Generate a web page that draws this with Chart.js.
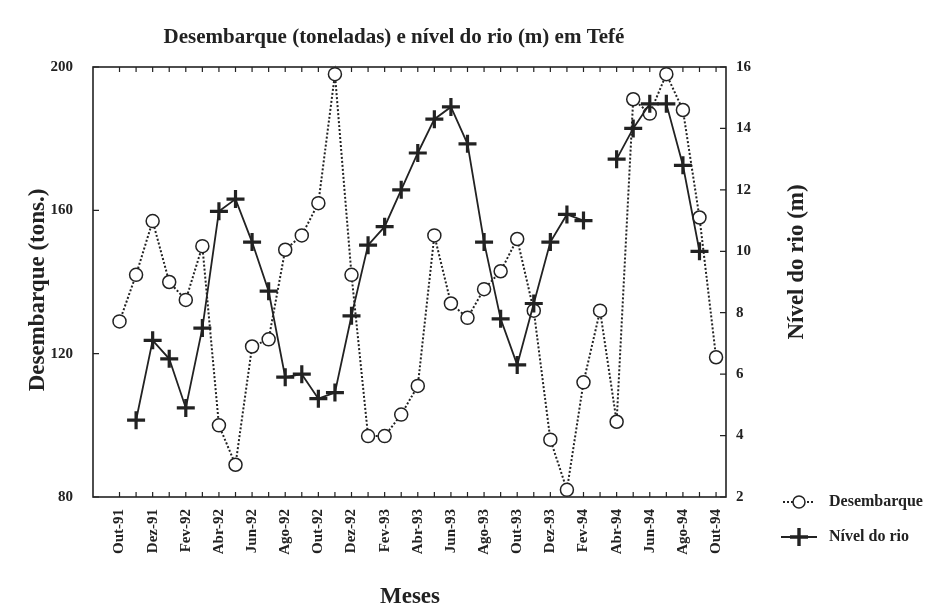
<!DOCTYPE html>
<html>
<head>
<meta charset="utf-8">
<script src="https://cdn.jsdelivr.net/npm/chart.js@4.4.1/dist/chart.umd.min.js"></script>
<style>
  body { margin: 0; background: #fff; }
</style>
</head>
<body>
<canvas id="myChart" width="945" height="613"></canvas>
<script>
var months = ['Out-91','Nov-91','Dez-91','Jan-92','Fev-92','Mar-92','Abr-92','Mai-92','Jun-92','Jul-92','Ago-92','Set-92',
    'Out-92','Nov-92','Dez-92','Jan-93','Fev-93','Mar-93','Abr-93','Mai-93','Jun-93','Jul-93','Ago-93','Set-93',
    'Out-93','Nov-93','Dez-93','Jan-94','Fev-94','Mar-94','Abr-94','Mai-94','Jun-94','Jul-94','Ago-94','Set-94','Out-94'];

// toneladas
var desembarque = [129, 142, 157, 140, 135, 150, 100, 89, 122, 124, 149, 153,
    162, 198, 142, 97, 97, 103, 111, 153, 134, 130, 138, 143,
    152, 132, 96, 82, 112, 132, 101, 191, 187, 198, 188, 158, 119];

// metros
var nivel = [null, 4.5, 7.1, 6.5, 4.9, 7.5, 11.3, 11.7, 10.3, 8.7, 5.9, 6.0,
    5.2, 5.4, 7.9, 10.2, 10.8, 12.0, 13.2, 14.3, 14.7, 13.5, 10.3, 7.8,
    6.3, 8.3, 10.3, 11.2, 11.0, null, 13.0, 14.0, 14.8, 14.8, 12.8, 10.0, null];

var leftTicks = [80, 120, 160, 200];
var rightTicks = [2, 4, 6, 8, 10, 12, 14, 16];

var ink = '#222';
var serif = "'Liberation Serif', 'DejaVu Serif', serif";

var decor = {
    id: 'decor',
    beforeDatasetsDraw: function(chart) {
        var ctx = chart.ctx, a = chart.chartArea, s = chart.scales;
        ctx.save();
        ctx.strokeStyle = ink;
        ctx.lineWidth = 1.6;
        ctx.strokeRect(a.left, a.top, a.right - a.left, a.bottom - a.top);
        ctx.lineWidth = 1.2;
        ctx.beginPath();
        months.forEach(function(m, i) {
            var x = s.x.getPixelForValue(i);
            ctx.moveTo(x, a.bottom); ctx.lineTo(x, a.bottom - 5);
            ctx.moveTo(x, a.top); ctx.lineTo(x, a.top + 5);
        });
        leftTicks.forEach(function(v) {
            var y = s.y.getPixelForValue(v);
            ctx.moveTo(a.left, y); ctx.lineTo(a.left + 6, y);
        });
        rightTicks.forEach(function(v) {
            var y = s.y1.getPixelForValue(v);
            ctx.moveTo(a.right, y); ctx.lineTo(a.right - 6, y);
        });
        ctx.stroke();
        ctx.restore();
    },
    afterDraw: function(chart) {
        var ctx = chart.ctx;
        ctx.save();
        ctx.fillStyle = ink;
        ctx.textAlign = 'center';
        ctx.textBaseline = 'middle';

        ctx.font = 'bold 21px ' + serif;
        ctx.fillText('Desembarque (toneladas) e nível do rio (m) em Tefé', 394, 38);

        ctx.font = 'bold 23px ' + serif;
        ctx.fillText('Meses', 410, 597);

        ctx.save();
        ctx.translate(38, 290);
        ctx.rotate(-Math.PI / 2);
        ctx.fillText('Desembarque (tons.)', 0, 0);
        ctx.restore();

        ctx.save();
        ctx.translate(797, 262);
        ctx.rotate(-Math.PI / 2);
        ctx.fillText('Nível do rio (m)', 0, 0);
        ctx.restore();

        // legend
        ctx.strokeStyle = ink;
        ctx.lineWidth = 1.8;
        ctx.setLineDash([2, 2]);
        ctx.beginPath(); ctx.moveTo(783, 502); ctx.lineTo(815, 502); ctx.stroke();
        ctx.setLineDash([]);
        ctx.lineWidth = 1.5;
        ctx.beginPath(); ctx.arc(799, 502, 6, 0, Math.PI * 2);
        ctx.fillStyle = '#fff'; ctx.fill(); ctx.stroke();

        ctx.lineWidth = 2;
        ctx.beginPath(); ctx.moveTo(781, 537); ctx.lineTo(817, 537); ctx.stroke();
        ctx.lineWidth = 3.4;
        ctx.beginPath();
        ctx.moveTo(790, 537); ctx.lineTo(808, 537);
        ctx.moveTo(799, 528); ctx.lineTo(799, 546);
        ctx.stroke();

        ctx.fillStyle = ink;
        ctx.textAlign = 'left';
        ctx.font = 'bold 16px ' + serif;
        ctx.fillText('Desembarque', 829, 502);
        ctx.fillText('Nível do rio', 829, 537);
        ctx.restore();
    }
};

var tickFont = { family: serif, size: 15, weight: 'bold' };

var config = {
    type: 'line',
    data: {
        datasets: [{
            label: 'Nível do rio',
            data: nivel.map(function(v, i) { return { x: i, y: v }; }),
            yAxisID: 'y1',
            borderColor: ink,
            borderWidth: 1.8,
            pointStyle: 'cross',
            pointRadius: 9,
            pointBorderWidth: 3.2,
            pointBorderColor: ink,
            spanGaps: false,
            clip: false
        }, {
            label: 'Desembarque',
            data: desembarque.map(function(v, i) { return { x: i, y: v }; }),
            yAxisID: 'y',
            borderColor: ink,
            borderWidth: 2,
            borderDash: [2, 2],
            pointStyle: 'circle',
            pointRadius: 6.5,
            pointBorderWidth: 1.5,
            pointBackgroundColor: '#fff',
            pointBorderColor: ink,
            clip: false
        }]
    },
    options: {
        responsive: false,
        animation: false,
        layout: { padding: { top: 67 } },
        plugins: { legend: { display: false }, title: { display: false }, tooltip: { enabled: false } },
        scales: {
            x: {
                type: 'linear',
                min: -1.6,
                max: 36.6,
                grid: { display: false, drawTicks: false },
                border: { display: false },
                afterFit: function(scale) { scale.height = 116; },
                ticks: {
                    stepSize: 1,
                    maxTicksLimit: 100,
                    includeBounds: false,
                    autoSkip: false,
                    minRotation: 90,
                    maxRotation: 90,
                    padding: 12,
                    color: ink,
                    font: tickFont,
                    callback: function(v) {
                        return (Number.isInteger(v) && v % 2 === 0) ? months[v] : '';
                    }
                }
            },
            y: {
                position: 'left',
                min: 80,
                max: 200,
                grid: { display: false, drawTicks: false },
                border: { display: false },
                afterFit: function(scale) { scale.width = 93; },
                ticks: { stepSize: 40, padding: 20, color: ink, font: tickFont }
            },
            y1: {
                position: 'right',
                min: 2,
                max: 16,
                grid: { display: false, drawTicks: false },
                border: { display: false },
                afterFit: function(scale) { scale.width = 219; },
                ticks: { stepSize: 2, padding: 10, color: ink, font: tickFont }
            }
        }
    },
    plugins: [decor]
};

var ctx = document.getElementById('myChart').getContext('2d');
var myChart = new Chart(ctx, config);
</script>
</body>
</html>
